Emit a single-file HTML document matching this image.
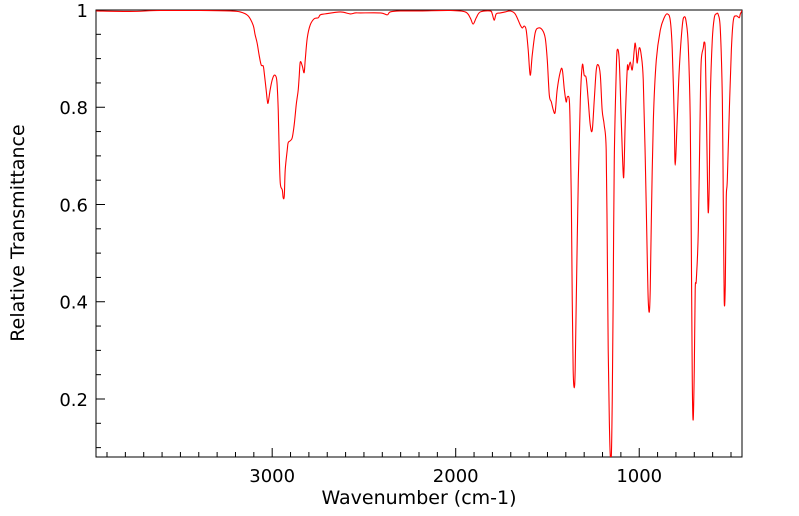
<!DOCTYPE html>
<html><head><meta charset="utf-8">
<style>
html,body{margin:0;padding:0;background:#fff;}
svg{display:block;font-family:"DejaVu Sans",sans-serif;}
</style></head>
<body>
<svg id="chart" width="799" height="516" viewBox="0 0 799 516" xmlns="http://www.w3.org/2000/svg">
<defs><clipPath id="clip"><rect x="96" y="10" width="646" height="447"/></clipPath></defs>
<rect x="96" y="10" width="646" height="447" fill="#fff" stroke="#000" stroke-width="1"/>
<g id="ticks"></g>
<path id="series" clip-path="url(#clip)" fill="none" stroke="#ff0000" stroke-width="1.1"/>
<text x="419" y="504" font-size="19" text-anchor="middle">Wavenumber (cm-1)</text>
<text x="24" y="233" font-size="19" text-anchor="middle" transform="rotate(-90 24 233)">Relative Transmittance</text>
</svg>
<script>
const wavenumbers = [3959,3774,3610,3392,3229,3174,3131,3104,3093,3082,3071,3060,3049,3044,3033,3027,3022,3011,3000,2989,2978,2973,2967,2962,2956,2945,2940,2934,2929,2918,2913,2902,2891,2880,2869,2864,2858,2853,2847,2836,2826,2820,2809,2793,2771,2749,2738,2711,2629,2575,2548,2520,2411,2373,2357,2302,2193,2030,1948,1921,1905,1888,1866,1812,1801,1790,1779,1757,
1730,1703,1676,1648,1637,1627,1616,1605,1594,1583,1567,1550,1528,1512,1501,1490,1479,1468,1458,1447,1430,1419,1408,1398,1392,1381,1376,1370,1365,1360,1354,1349,1343,1332,1321,1310,1300,1289,1278,1267,1256,1245,1234,1223,1212,1202,1191,1180,1174,1169,1163,1158,1152,1147,1142,1136,1125,1120,1109,1098,1087,1082,1076,1065,1060,1049,1038,1027,1022,1016,1011,1000,989,978,967,956,951,945,940,934,923,907,885,864,847,831,820,809,804,793,782,765,754,744,733,722,716,711,706,700,695,689,678,667,662,651,646,640,635,629,624,618,613,602,591,580,569,558,547,542,537,531,526,520,509,498,487,471,455,449,438];
const transmittance = [0.998,0.997,0.999,0.999,0.998,0.996,0.988,0.969,0.949,0.932,0.907,0.887,0.885,0.873,0.836,0.815,0.809,0.836,0.856,0.866,0.862,0.846,0.794,0.712,0.644,0.630,0.614,0.618,0.671,0.712,0.727,0.731,0.737,0.764,0.805,0.819,0.836,0.862,0.893,0.885,0.871,0.897,0.942,0.969,0.982,0.984,0.990,0.992,0.996,0.992,0.994,0.994,0.994,0.990,0.996,0.998,0.998,0.999,0.996,0.984,0.971,0.984,0.996,0.998,0.992,0.979,0.992,0.994,
0.996,0.998,0.992,0.969,0.963,0.967,0.959,0.918,0.866,0.907,0.953,0.963,0.959,0.942,0.897,0.825,0.811,0.794,0.790,0.836,0.873,0.877,0.836,0.811,0.821,0.815,0.753,0.610,0.404,0.260,0.223,0.260,0.404,0.651,0.815,0.887,0.866,0.860,0.815,0.764,0.753,0.815,0.877,0.887,0.866,0.794,0.764,0.712,0.507,0.301,0.157,0.086,0.082,0.198,0.404,0.692,0.877,0.918,0.897,0.774,0.661,0.681,0.774,0.881,0.877,0.893,0.877,0.918,0.932,0.914,0.891,0.922,0.907,0.856,0.692,0.486,0.404,0.379,0.425,0.568,0.774,0.897,0.959,0.984,0.992,0.979,0.918,0.774,0.681,0.774,0.877,0.969,0.986,0.975,0.928,0.774,0.507,0.240,0.157,0.260,0.425,0.445,0.548,0.815,0.897,0.922,0.934,0.918,0.815,0.671,0.583,0.651,0.815,0.938,0.984,0.992,0.990,0.959,0.815,0.610,0.404,0.435,0.610,0.651,0.794,0.918,0.979,0.988,0.984,0.992,1.000];
const xTicks = [3000,2000,1000];
const yTicks = [0.2,0.4,0.6,0.8,1];

const X0=96,X1=742,Y0=10,Y1=457;
const XMAX=3960,XMIN=440,YMIN=0.0807,YMAX=1.0;
function xs(v){return X0+(XMAX-v)/(XMAX-XMIN)*(X1-X0);}
function ys(v){return Y1-(v-YMIN)/(YMAX-YMIN)*(Y1-Y0);}
const NS='http://www.w3.org/2000/svg';
const g=document.getElementById('ticks');
const svg=document.getElementById('chart');
function line(x1,y1,x2,y2,name){
  const l=document.createElementNS(NS,'line');
  l.setAttribute('x1',x1);l.setAttribute('y1',y1);l.setAttribute('x2',x2);l.setAttribute('y2',y2);
  l.setAttribute('stroke','#000');l.setAttribute('stroke-width','1');
  
  
  g.appendChild(l);
}
function label(x,y,t,anchor,name){
  const e=document.createElementNS(NS,'text');
  e.setAttribute('x',x);e.setAttribute('y',y);e.setAttribute('font-size','18');
  e.setAttribute('text-anchor',anchor);e.textContent=t;
  
  
  svg.appendChild(e);
}
for(let w=500; w<=3900; w+=100){
  const x=xs(w); if(x<X0||x>X1) continue;
  const major = w%1000===0;
  line(x,Y1,x,Y1-(major?9:5),'x-tick');
}
xTicks.forEach(v=>label(xs(v),482,String(v),'middle','x-tick-label'));
for(let k=2;k<=20;k++){
  const v=k*0.05; const y=ys(v); if(y>Y1) continue;
  const major = k%4===0;
  line(X0,y,X0+(major?9:5),y,'y-tick');
}
yTicks.forEach(v=>label(88,ys(v)+7,String(v),'end','y-tick-label'));

const pts=wavenumbers.map((w,i)=>[xs(w),ys(transmittance[i])]);
let d='M'+pts[0][0].toFixed(2)+','+pts[0][1].toFixed(2);
for(let i=0;i<pts.length-1;i++){
  const p0=pts[Math.max(0,i-1)],p1=pts[i],p2=pts[i+1],p3=pts[Math.min(pts.length-1,i+2)];
  const c1=[p1[0]+(p2[0]-p0[0])/6,p1[1]+(p2[1]-p0[1])/6];
  const c2=[p2[0]-(p3[0]-p1[0])/6,p2[1]-(p3[1]-p1[1])/6];
  d+=' C'+c1[0].toFixed(2)+','+c1[1].toFixed(2)+' '+c2[0].toFixed(2)+','+c2[1].toFixed(2)+' '+p2[0].toFixed(2)+','+p2[1].toFixed(2);
}
document.getElementById('series').setAttribute('d',d);
</script>
</body></html>
